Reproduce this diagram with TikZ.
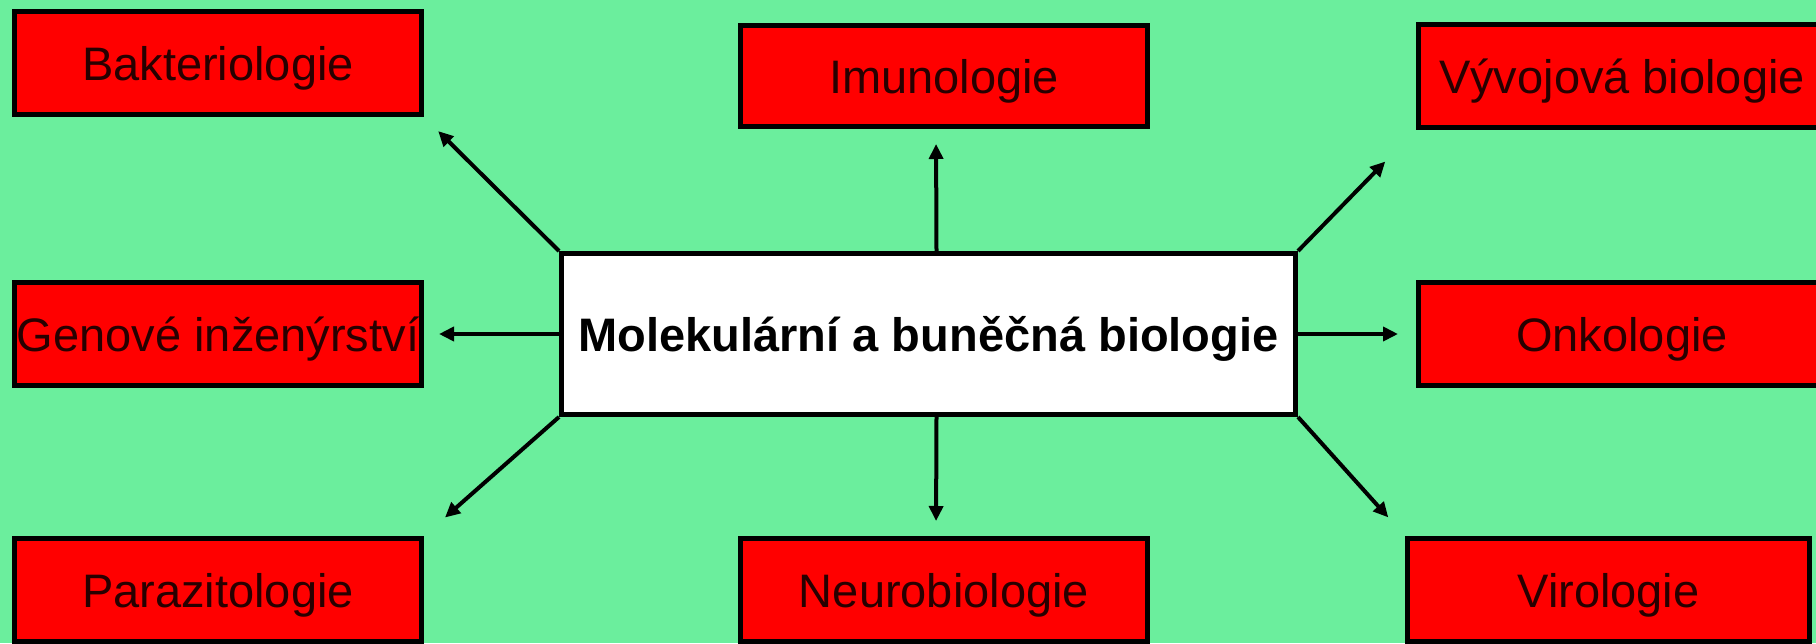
\documentclass[tikz,border=0pt]{standalone}
\usepackage{fontspec}
\setmainfont{Liberation Sans}
\usetikzlibrary{arrows.meta}
\definecolor{bggreen}{RGB}{107,238,157}
\definecolor{boxred}{RGB}{255,0,0}
\definecolor{darktext}{RGB}{40,0,0}
\begin{document}
\begin{tikzpicture}[x=1pt,y=-1pt,
  subject/.style={draw=black,line width=5pt,fill=boxred,rectangle,inner sep=0pt,
    minimum width=407pt,minimum height=103pt,text=darktext,
    text height=34pt,text depth=0pt,
    font=\fontsize{47}{56}\selectfont},
  centre/.style={draw=black,line width=5pt,fill=white,rectangle,inner sep=0pt,
    minimum width=734pt,minimum height=161pt,text=black,
    text height=34pt,text depth=0pt,
    font=\fontsize{47}{56}\selectfont\bfseries},
  link/.style={line width=4pt,-{Triangle[length=15pt,width=14pt]}}]
\useasboundingbox (0,0) rectangle (1816,643);
\clip (0,0) rectangle (1816,643);
\fill[bggreen] (0,0) rectangle (1816,643);

\node[centre] (cen) at (928.5,334) {Molekulární a buněčná biologie};

\node[subject] (bak) at (218,63) {Bakteriologie};
\node[subject,minimum height=101pt] (imu) at (944,76) {Imunologie};
\node[subject] (vyv) at (1622,76) {Vývojová biologie};
\node[subject] (gen) at (218,334) {Genové inženýrství};
\node[subject] (onk) at (1622,334) {Onkologie};
\node[subject] (par) at (218,590) {Parazitologie};
\node[subject] (neu) at (944,590) {Neurobiologie};
\node[subject,minimum width=402pt] (vir) at (1608.5,590) {Virologie};

\draw[link,shorten >=20pt] (cen.north west) -- (bak.south east);
\draw[link,shorten >=15pt] ([xshift=8pt]cen.north) -- ([xshift=-8pt]imu.south);
\draw[link,shorten >=44pt] (cen.north east) -- (vyv.south west);
\draw[link,shorten >=15pt] (cen.west) -- (gen.east);
\draw[link,shorten >=18pt] (cen.east) -- (onk.west);
\draw[link,shorten >=28pt] (cen.south west) -- (par.north east);
\draw[link,shorten >=15pt] ([xshift=8pt]cen.south) -- ([xshift=-8pt]neu.north);
\draw[link,shorten >=25pt] (cen.south east) -- (vir.north west);
\end{tikzpicture}
\end{document}
